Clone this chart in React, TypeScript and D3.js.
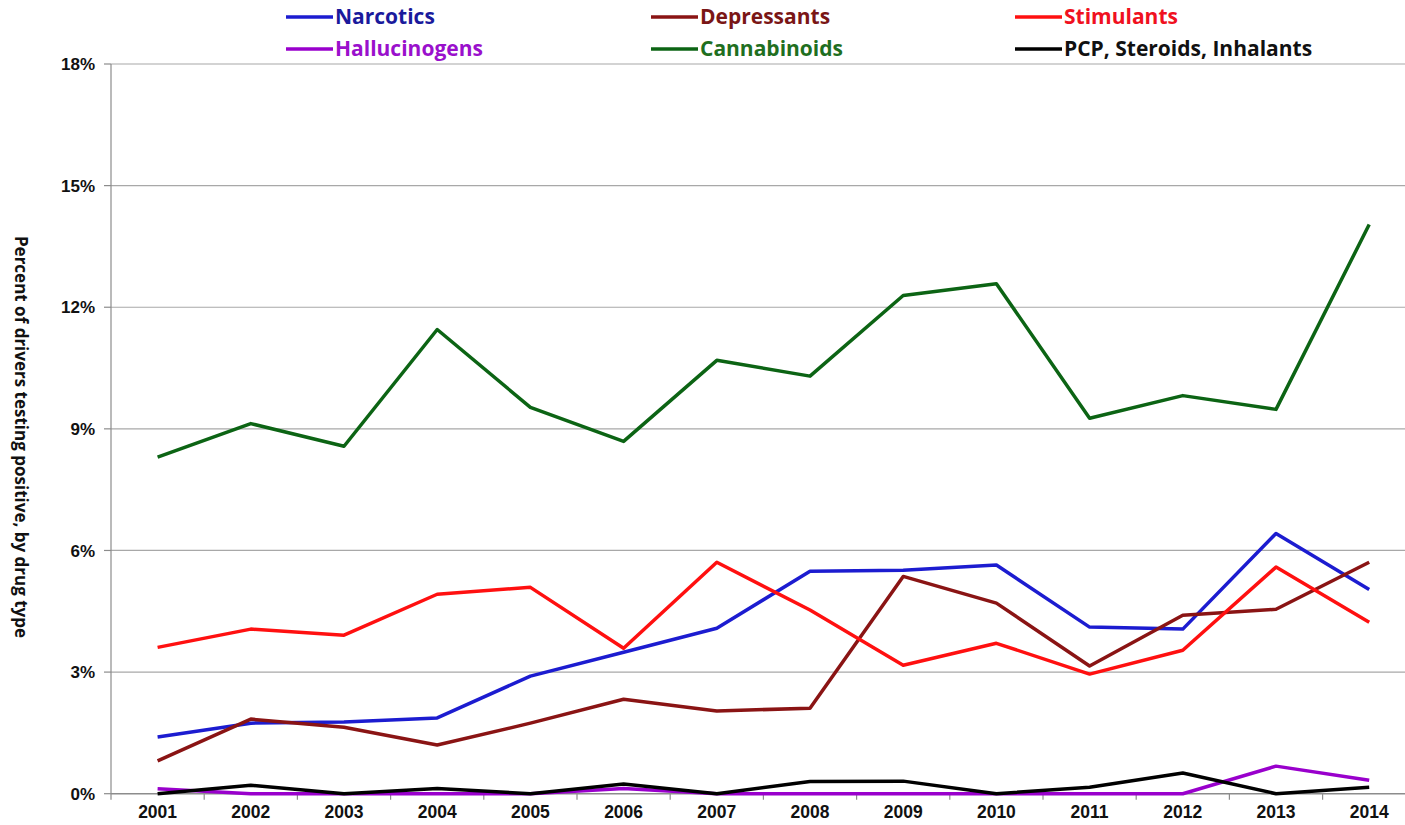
import React, { useEffect, useRef } from 'react';
import * as d3 from 'd3';

// Preset data (percent of drivers testing positive)
const years: string[] = ['2001', '2002', '2003', '2004', '2005', '2006', '2007', '2008', '2009', '2010', '2011', '2012', '2013', '2014'];
const narcotics: number[] = [1.4, 1.74, 1.77, 1.87, 2.9, 3.49, 4.08, 5.49, 5.51, 5.64, 4.11, 4.06, 6.42, 5.04];
const depressants: number[] = [0.81, 1.84, 1.64, 1.2, 1.74, 2.33, 2.04, 2.11, 5.36, 4.7, 3.15, 4.4, 4.55, 5.71];
const stimulants: number[] = [3.61, 4.06, 3.91, 4.92, 5.09, 3.59, 5.71, 4.53, 3.17, 3.71, 2.95, 3.54, 5.59, 4.23];
const hallucinogens: number[] = [0.12, 0, 0, 0, 0, 0.13, 0, 0, 0, 0, 0, 0, 0.68, 0.33];
const cannabinoids: number[] = [8.3, 9.13, 8.57, 11.45, 9.53, 8.69, 10.69, 10.3, 12.29, 12.58, 9.26, 9.82, 9.48, 14.04];
const pcpOther: number[] = [0, 0.21, 0, 0.13, 0, 0.24, 0, 0.3, 0.31, 0, 0.16, 0.51, 0, 0.16];
const yTicks: number[] = [0, 3, 6, 9, 12, 15, 18];

interface Series {
  name: string;
  values: number[];
  line: string;
  text: string;
}

const series: Series[] = [
  { name: 'Narcotics', values: narcotics, line: '#1c1cd0', text: '#1a1a9c' },
  { name: 'Depressants', values: depressants, line: '#8a1414', text: '#7a1616' },
  { name: 'Stimulants', values: stimulants, line: '#ff1010', text: '#f01020' },
  { name: 'Hallucinogens', values: hallucinogens, line: '#9900cc', text: '#9a10cc' },
  { name: 'Cannabinoids', values: cannabinoids, line: '#0c6414', text: '#1f6f1f' },
  { name: 'PCP, Steroids, Inhalants', values: pcpOther, line: '#000000', text: '#111111' },
];

const W = 1405;
const H = 825;

const DrugChart: React.FC = () => {
  const svgRef = useRef<SVGSVGElement>(null);

  useEffect(() => {
    const svg = d3.select(svgRef.current);
    if (!svgRef.current) return;
    svg.selectAll('*').remove();

    const left = 111;
    const step = 93.2;
    const top = 64;
    const bottom = 793.7;

    const x = d3.scaleBand<string>().domain(years).range([left, left + step * years.length]);
    const y = d3.scaleLinear().domain([0, 18]).range([bottom, top]);
    const cx = (i: number) => (x(years[i]) as number) + x.bandwidth() / 2;

    // gridlines
    svg.append('g')
      .selectAll('line')
      .data(yTicks.filter((t) => t > 0))
      .join('line')
      .attr('x1', left)
      .attr('x2', W)
      .attr('y1', (d) => y(d))
      .attr('y2', (d) => y(d))
      .attr('stroke', '#a8a8a8')
      .attr('stroke-width', 1.2);

    // y axis
    svg.append('line')
      .attr('x1', left).attr('x2', left)
      .attr('y1', top).attr('y2', bottom)
      .attr('stroke', '#8c8c8c').attr('stroke-width', 1.2);
    svg.append('g')
      .selectAll('line')
      .data(yTicks)
      .join('line')
      .attr('x1', left - 7).attr('x2', left)
      .attr('y1', (d) => y(d)).attr('y2', (d) => y(d))
      .attr('stroke', '#8c8c8c').attr('stroke-width', 1.2);
    svg.append('g')
      .selectAll('text')
      .data(yTicks)
      .join('text')
      .attr('x', 95)
      .attr('y', (d) => y(d))
      .attr('dy', '0.36em')
      .attr('text-anchor', 'end')
      .attr('font-family', '"Liberation Sans", Arial, sans-serif')
      .attr('font-weight', 'bold')
      .attr('font-size', 17)
      .attr('fill', '#111')
      .text((d) => `${d}%`);

    // x axis
    svg.append('line')
      .attr('x1', left).attr('x2', W)
      .attr('y1', bottom).attr('y2', bottom)
      .attr('stroke', '#8c8c8c').attr('stroke-width', 1.4);
    svg.append('g')
      .selectAll('line')
      .data(years)
      .join('line')
      .attr('x1', (d) => x(d) as number).attr('x2', (d) => x(d) as number)
      .attr('y1', bottom).attr('y2', bottom + 6)
      .attr('stroke', '#8c8c8c').attr('stroke-width', 1.2);
    svg.append('g')
      .selectAll('text')
      .data(years)
      .join('text')
      .attr('x', (d, i) => cx(i))
      .attr('y', 818)
      .attr('text-anchor', 'middle')
      .attr('font-family', '"Liberation Sans", Arial, sans-serif')
      .attr('font-weight', 'bold')
      .attr('font-size', 17.5)
      .attr('fill', '#111')
      .text((d) => d);

    // y label
    svg.append('text')
      .attr('transform', `translate(15, 437) rotate(90)`)
      .attr('text-anchor', 'middle')
      .attr('font-family', '"Open Sans", Lato, sans-serif')
      .attr('font-weight', 'bold')
      .attr('font-size', 17)
      .attr('fill', '#111')
      .text('Percent of drivers testing positive, by drug type');

    // lines
    const lineGen = d3.line<number>()
      .x((_, i) => cx(i))
      .y((d) => y(d));

    series.forEach((s) => {
      svg.append('path')
        .attr('d', lineGen(s.values))
        .attr('fill', 'none')
        .attr('stroke', s.line)
        .attr('stroke-width', 3.5)
        .attr('stroke-linejoin', 'round');
    });

    // legend
    const legX = [286, 651, 1015];
    const legY = [17, 49];
    series.forEach((s, i) => {
      const lx = legX[i % 3];
      const ly = legY[Math.floor(i / 3)];
      const g = svg.append('g').attr('transform', `translate(${lx}, ${ly})`);
      g.append('line')
        .attr('x1', 0).attr('x2', 47)
        .attr('y1', 0).attr('y2', 0)
        .attr('stroke', s.line).attr('stroke-width', 3.5);
      g.append('text')
        .attr('x', 49)
        .attr('y', 0)
        .attr('dy', '0.35em')
        .attr('font-family', '"Open Sans", Lato, sans-serif')
        .attr('font-weight', 'bold')
        .attr('font-size', 21)
        .attr('fill', s.text)
        .text(s.name);
    });
  }, []);

  return (
    <svg
      ref={svgRef}
      width={W}
      height={H}
      style={{ position: 'absolute', left: 0, top: 0, background: '#fff', display: 'block' }}
    />
  );
};

export default function App() {
  return <DrugChart />;
}
